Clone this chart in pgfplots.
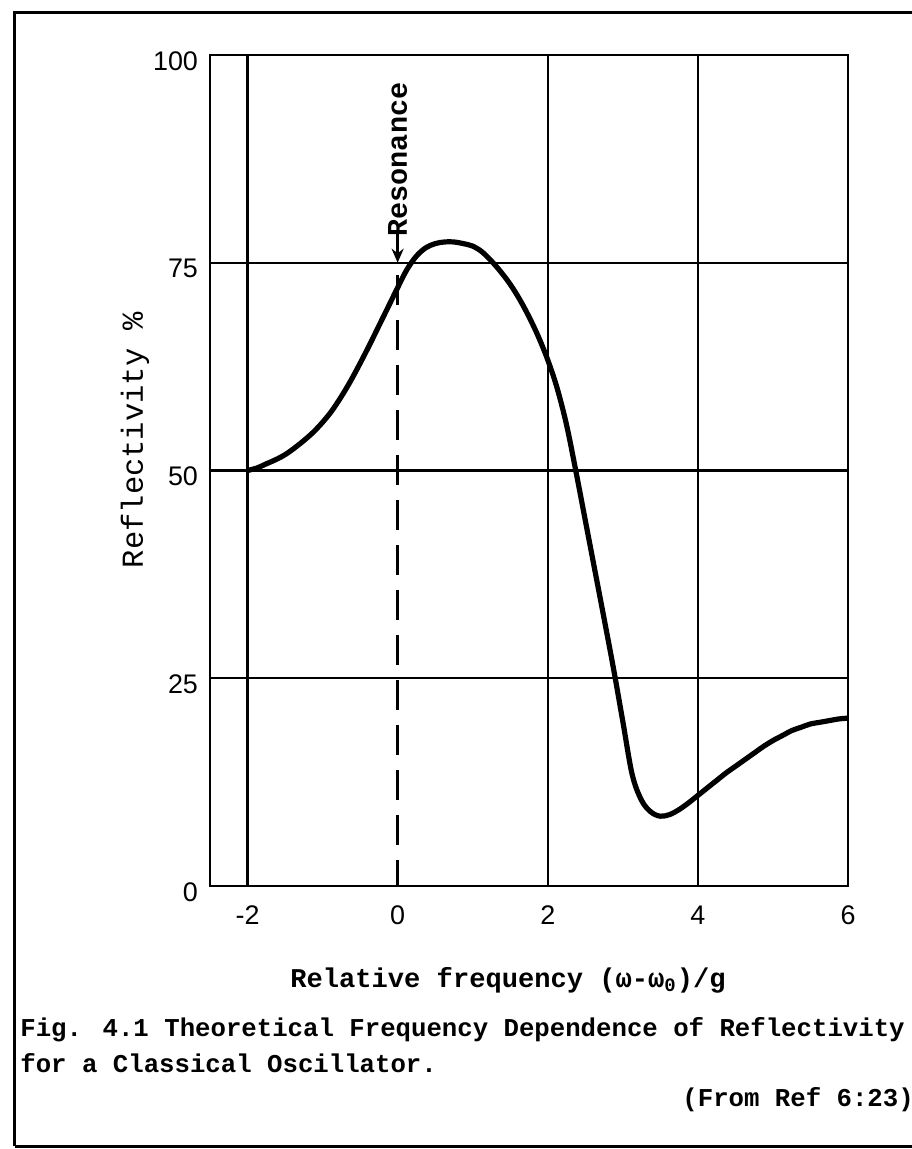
\documentclass[border=0pt]{standalone}
\usepackage{pgfplots}
\pgfplotsset{compat=1.18}
\usepackage{fontspec}
\setmainfont{Liberation Mono}
\newfontfamily\tickfont{Liberation Sans}
\usetikzlibrary{arrows.meta}

\pgfplotstableread{
x y
-2.000 50.0
-1.875 50.3
-1.750 50.8
-1.625 51.3
-1.500 51.9
-1.375 52.7
-1.250 53.6
-1.125 54.6
-1.000 55.8
-0.875 57.2
-0.750 58.9
-0.625 60.8
-0.500 62.9
-0.375 65.1
-0.250 67.4
-0.125 69.7
0.000 72.0
0.125 74.2
0.250 75.8
0.375 76.8
0.500 77.3
0.625 77.5
0.750 77.5
0.875 77.3
1.000 77.0
1.125 76.3
1.250 75.2
1.375 73.9
1.500 72.4
1.625 70.6
1.750 68.5
1.875 66.1
2.000 63.3
2.125 59.9
2.250 55.5
2.375 49.9
2.500 44.0
2.625 38.1
2.750 32.2
2.875 26.2
3.000 19.8
3.125 13.4
3.250 10.3
3.375 8.9
3.500 8.4
3.625 8.6
3.750 9.2
3.875 10.0
4.000 10.9
4.125 11.8
4.250 12.7
4.375 13.6
4.500 14.4
4.625 15.2
4.750 16.0
4.875 16.8
5.000 17.5
5.125 18.1
5.250 18.7
5.375 19.1
5.500 19.5
5.625 19.7
5.750 19.9
5.875 20.1
6.000 20.2
}\curvedata

\begin{document}
\begin{tikzpicture}[x=1bp,y=1bp]
\useasboundingbox (-105,-131.5) rectangle (351,443);
\begin{axis}[at={(0,0)}, anchor=south west, scale only axis,
 width=319bp, height=415.5bp,
 xmin=-2.5, xmax=6, ymin=0, ymax=100,
 xtick={-2,2,4,6}, xticklabels={-2,2,4,6},
 extra x ticks={0}, extra x tick labels={0}, extra x tick style={grid=none},
 ytick={0,25,50,75,100}, yticklabels={0,25,50,75,100},
 xmajorgrids, ymajorgrids,
 grid style={black, line width=1.2bp},
 axis line style={line width=1.3bp},
 major tick length=0pt,
 ticklabel style={font=\tickfont\fontsize{13.5}{16}\selectfont},
 xticklabel style={yshift=-6.5bp},
 yticklabel style={yshift=-3bp, xshift=-2.5bp},
 clip=false,
]
\addplot[black, line width=1.2bp, dash pattern=on 15bp off 7.5bp] coordinates {(0,73.5) (0,0)};
\addplot[black, line width=2.6bp, smooth, tension=0.55] table {\curvedata};
\node[rotate=90, anchor=west, inner sep=0, font=\bfseries\fontsize{14.3}{16}\selectfont] at (axis cs:0,78.1) {Resonance};
\draw[-{Stealth[length=7bp,width=6bp]}, line width=1.2bp] (axis cs:0,78.6) -- (axis cs:0,75);
\end{axis}
\node[font=\bfseries\fontsize{13.6}{16}\selectfont] at (149,-47) {Relative frequency (ω-ω\textsubscript{0})/g};
\node[rotate=90, font=\fontsize{15.3}{17}\selectfont] at (-37.5,223) {Reflectivity \%};
\node[anchor=west, inner sep=0, font=\bfseries\fontsize{12.9}{15}\selectfont] at (-95,-72) {Fig. 4.1 Theoretical Frequency Dependence of Reflectivity};
\node[anchor=west, inner sep=0, font=\bfseries\fontsize{12.9}{15}\selectfont] at (-95,-88.5) {for a Classical Oscillator.};
\node[anchor=west, inner sep=0, font=\bfseries\fontsize{12.9}{15}\selectfont] at (236,-107) {(From Ref 6:23)};
\draw[line width=1.5bp] (-97.5,-130) -- (-97.5,436.5) -- (360,436.5);
\draw[line width=1.5bp] (-97.5,-130) -- (360,-130);
\end{tikzpicture}
\end{document}
